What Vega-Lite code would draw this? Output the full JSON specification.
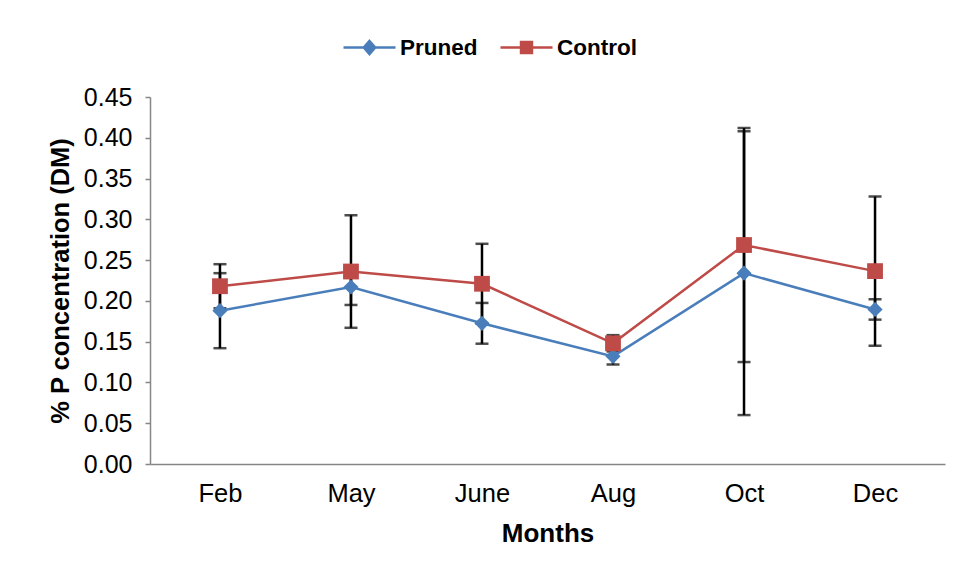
{
  "$schema": "https://vega.github.io/schema/vega-lite/v6.json",
  "autosize": {"type": "none"},
  "width": 795,
  "height": 367,
  "padding": {"left": 150, "top": 97, "right": 8, "bottom": 110},
  "background": "white",
  "config": {
    "view": {"stroke": null},
    "font": "Liberation Sans",
    "axis": {"grid": false, "domainColor": "#868686", "domainWidth": 1.5, "tickColor": "#868686", "tickWidth": 1.5, "labelColor": "black", "titleColor": "black", "labelFont": "Liberation Sans", "titleFont": "Liberation Sans"}
  },
  "data": {
    "values": [
      {"month": "Feb", "series": "Pruned", "value": 0.188, "err": 0.046},
      {"month": "May", "series": "Pruned", "value": 0.217, "err": 0.022},
      {"month": "June", "series": "Pruned", "value": 0.1725, "err": 0.025},
      {"month": "Aug", "series": "Pruned", "value": 0.132, "err": 0.010},
      {"month": "Oct", "series": "Pruned", "value": 0.234, "err": 0.174},
      {"month": "Dec", "series": "Pruned", "value": 0.1895, "err": 0.0125},
      {"month": "Feb", "series": "Control", "value": 0.218, "err": 0.027},
      {"month": "May", "series": "Control", "value": 0.236, "err": 0.069},
      {"month": "June", "series": "Control", "value": 0.221, "err": 0.049},
      {"month": "Aug", "series": "Control", "value": 0.148, "err": 0.010},
      {"month": "Oct", "series": "Control", "value": 0.2685, "err": 0.1435},
      {"month": "Dec", "series": "Control", "value": 0.2365, "err": 0.0915}
    ]
  },
  "encoding": {
    "x": {
      "field": "month", "type": "nominal", "sort": ["Feb", "May", "June", "Aug", "Oct", "Dec"],
      "scale": {"type": "point", "padding": 0.534},
      "axis": {"title": "Months", "labelAngle": 0, "ticks": false, "labelFontSize": 25.5, "labelPadding": 17, "titleFontSize": 26, "titleFontWeight": "bold", "titlePadding": 14}
    },
    "y": {
      "field": "value", "type": "quantitative",
      "scale": {"domain": [0, 0.45], "nice": false},
      "axis": {"title": "% P concentration (DM)", "values": [0, 0.05, 0.1, 0.15, 0.2, 0.25, 0.3, 0.35, 0.4, 0.45], "format": ".2f", "tickSize": 5, "labelFontSize": 25, "labelPadding": 13, "titleFontSize": 25.5, "titleFontWeight": "bold", "titlePadding": 10}
    }
  },
  "layer": [
    {
      "mark": {"type": "errorbar", "ticks": {"size": 13, "thickness": 2.5, "color": "black"}, "rule": {"strokeWidth": 2.5, "color": "black"}, "color": "black"},
      "encoding": {
        "yError": {"field": "err"},
        "detail": {"field": "series"}
      }
    },
    {
      "encoding": {
        "color": {
          "field": "series", "type": "nominal",
          "scale": {"domain": ["Pruned", "Control"], "range": ["#4A7EBB", "#BE4B48"]},
          "legend": {
            "title": null, "orient": "none", "direction": "horizontal", "legendX": 192, "legendY": -77,
            "symbolSize": 2704, "labelFontSize": 22.5, "labelFontWeight": "bold", "labelColor": "black", "labelFont": "Liberation Sans",
            "labelOffset": 3, "columnPadding": 17,
            "encode": {
              "symbols": {"update": {
                "shape": {"signal": "datum.value === 'Pruned' ? 'M-1,0H1M0,-0.25L0.22,0L0,0.25L-0.22,0Z' : 'M-1,0H1M-0.21,-0.21H0.21V0.21H-0.21Z'"},
                "fill": {"scale": "color", "field": "value"},
                "stroke": {"scale": "color", "field": "value"},
                "strokeWidth": {"value": 2.5},
                "opacity": {"value": 1}
              }}
            }
          }
        }
      },
      "layer": [
        {"mark": {"type": "line", "strokeWidth": 2.5}},
        {
          "transform": [{"filter": "datum.series === 'Pruned'"}],
          "mark": {"type": "point", "filled": true, "opacity": 1, "shape": "diamond", "size": 230}
        },
        {
          "transform": [{"filter": "datum.series === 'Control'"}],
          "mark": {"type": "point", "filled": true, "opacity": 1, "shape": "square", "size": 250}
        }
      ]
    }
  ]
}
